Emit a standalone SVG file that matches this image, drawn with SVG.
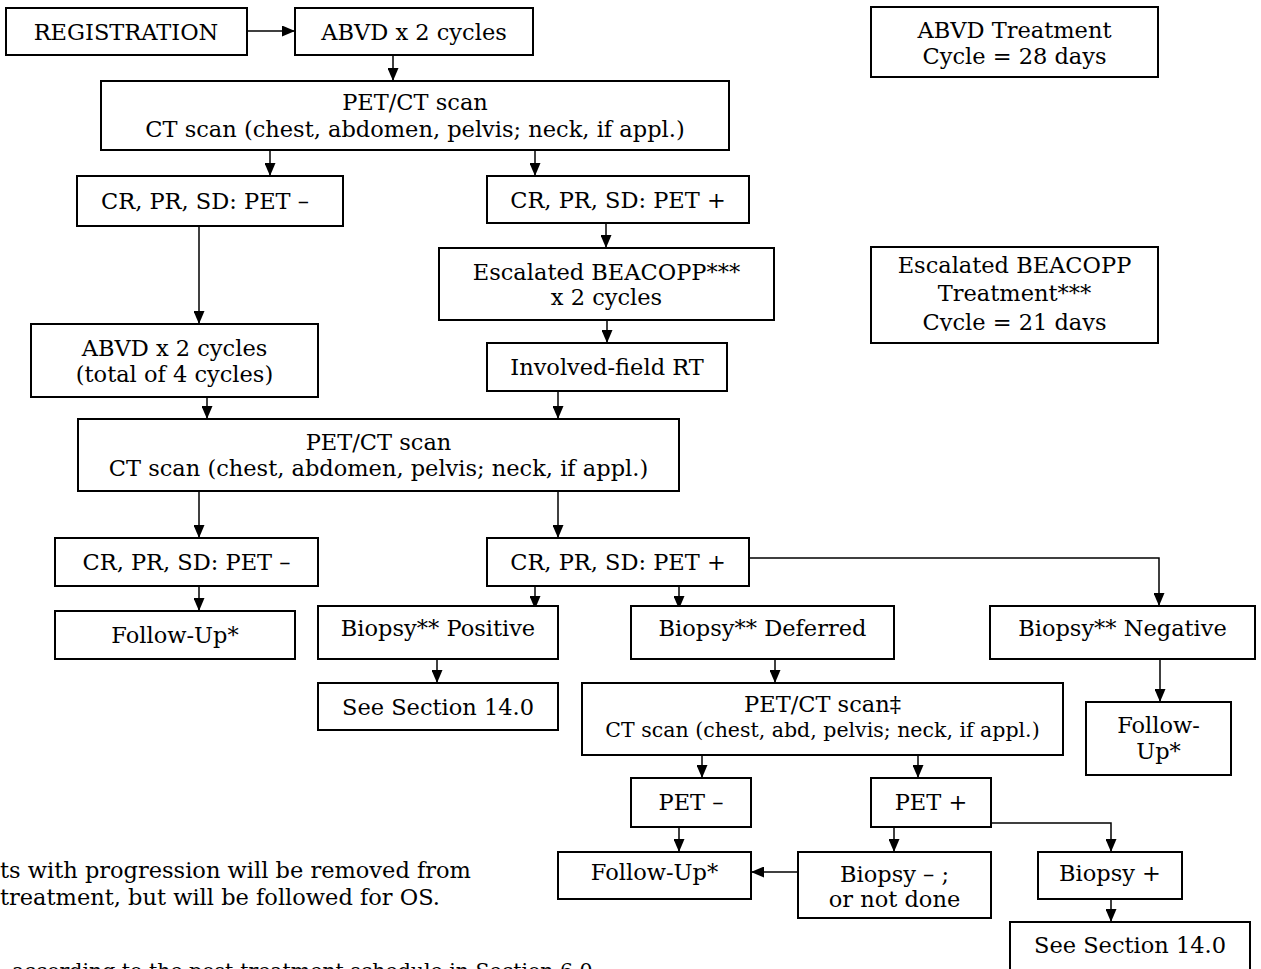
<svg xmlns="http://www.w3.org/2000/svg" width="1261" height="969" viewBox="0 0 1261 969">
<style>
.b{fill:#fff;stroke:#000;stroke-width:2}
.t{font-family:"DejaVu Serif","Liberation Serif",serif;font-size:22.5px;fill:#000;text-anchor:middle}
.s{font-size:20.5px}
.f{font-family:"DejaVu Serif","Liberation Serif",serif;font-size:22.5px;fill:#000}
.g{font-size:20.5px}
.c{fill:none;stroke:#000;stroke-width:1.5;marker-end:url(#a)}
</style>
<defs>
<marker id="a" viewBox="0 0 13 11" refX="13" refY="5.5" markerWidth="13" markerHeight="11" markerUnits="userSpaceOnUse" orient="auto"><path d="M0,0 L13,5.5 L0,11 z" fill="#000"/></marker>
<clipPath id="clipEsc"><rect x="871" y="247" width="287" height="84"/></clipPath>
</defs>
<g id="connectors">
<path class="c" d="M247,31 H295"/>
<path class="c" d="M393,55 V81"/>
<path class="c" d="M270,150 V176"/>
<path class="c" d="M535,150 V176"/>
<path class="c" d="M199,226 V324"/>
<path class="c" d="M606,223 V248"/>
<path class="c" d="M607,320 V343"/>
<path class="c" d="M207,397 V419"/>
<path class="c" d="M558,391 V419"/>
<path class="c" d="M199,491 V538"/>
<path class="c" d="M558,491 V538"/>
<path class="c" d="M749,558 H1159 V606"/>
<path class="c" d="M199,586 V611"/>
<path class="c" d="M535,586 V609"/>
<path class="c" d="M679,586 V609"/>
<path class="c" d="M437,659 V683"/>
<path class="c" d="M775,659 V683"/>
<path class="c" d="M1160,659 V702"/>
<path class="c" d="M702,755 V778"/>
<path class="c" d="M918,755 V778"/>
<path class="c" d="M679,827 V852"/>
<path class="c" d="M894,827 V852"/>
<path class="c" d="M798,872 H751"/>
<path class="c" d="M991,823 H1111 V852"/>
<path class="c" d="M1111,899 V922"/>
</g>
<g id="registration"><rect class="b" x="6" y="8" width="241" height="47"/><text class="t" x="126" y="39.5">REGISTRATION</text></g>
<g id="abvd1"><rect class="b" x="295" y="8" width="238" height="47"/><text class="t" x="414" y="39.5">ABVD x 2 cycles</text></g>
<g id="abvd-treatment"><rect class="b" x="871" y="7" width="287" height="70"/><text class="t" x="1014.5" y="37.5">ABVD Treatment</text><text class="t" x="1014.5" y="63.5">Cycle = 28 days</text></g>
<g id="petct1"><rect class="b" x="101" y="81" width="628" height="69"/><text class="t" x="415" y="110">PET/CT scan</text><text class="t" x="415" y="136.5">CT scan (chest, abdomen, pelvis; neck, if appl.)</text></g>
<g id="crneg1"><rect class="b" x="77" y="176" width="266" height="50"/><text class="t" x="205" y="208.5">CR, PR, SD: PET –</text></g>
<g id="crpos1"><rect class="b" x="487" y="176" width="262" height="47"/><text class="t" x="618" y="207.5">CR, PR, SD: PET +</text></g>
<g id="abvd2"><rect class="b" x="31" y="324" width="287" height="73"/><text class="t" x="174.5" y="355.5">ABVD x 2 cycles</text><text class="t" x="174.5" y="381.5">(total of 4 cycles)</text></g>
<g id="escalated"><rect class="b" x="439" y="248" width="335" height="72"/><text class="t" x="606.5" y="279.5">Escalated BEACOPP***</text><text class="t" x="606.5" y="304.5">x 2 cycles</text></g>
<g id="ifrt"><rect class="b" x="487" y="343" width="240" height="48"/><text class="t" x="607" y="374.5">Involved-field RT</text></g>
<g id="esc-treatment"><rect class="b" x="871" y="247" width="287" height="96"/><g clip-path="url(#clipEsc)"><text class="t" x="1014.5" y="272.5">Escalated BEACOPP</text><text class="t" x="1014.5" y="301">Treatment***</text><text class="t" x="1014.5" y="329.5">Cycle = 21 days</text></g></g>
<g id="petct2"><rect class="b" x="78" y="419" width="601" height="72"/><text class="t" x="378.5" y="449.5">PET/CT scan</text><text class="t" x="378.5" y="475.5">CT scan (chest, abdomen, pelvis; neck, if appl.)</text></g>
<g id="crneg2"><rect class="b" x="55" y="538" width="263" height="48"/><text class="t" x="186.5" y="569.5">CR, PR, SD: PET –</text></g>
<g id="crpos2"><rect class="b" x="487" y="538" width="262" height="48"/><text class="t" x="618" y="569.5">CR, PR, SD: PET +</text></g>
<g id="followup1"><rect class="b" x="55" y="611" width="240" height="48"/><text class="t" x="175" y="642.5">Follow-Up*</text></g>
<g id="biopsy-positive"><rect class="b" x="318" y="606" width="240" height="53"/><text class="t" x="438" y="635.5">Biopsy** Positive</text></g>
<g id="biopsy-deferred"><rect class="b" x="631" y="606" width="263" height="53"/><text class="t" x="762.5" y="635.5">Biopsy** Deferred</text></g>
<g id="biopsy-negative"><rect class="b" x="990" y="606" width="265" height="53"/><text class="t" x="1122.5" y="635.5">Biopsy** Negative</text></g>
<g id="section1"><rect class="b" x="318" y="683" width="240" height="47"/><text class="t" x="438" y="714.5">See Section 14.0</text></g>
<g id="petct3"><rect class="b" x="582" y="683" width="481" height="72"/><text class="t" x="822.5" y="711.5">PET/CT scan‡</text><text class="t s" x="822.5" y="736.5">CT scan (chest, abd, pelvis; neck, if appl.)</text></g>
<g id="followup2"><rect class="b" x="1086" y="702" width="145" height="73"/><text class="t" x="1158.5" y="732.5">Follow-</text><text class="t" x="1158.5" y="758.5">Up*</text></g>
<g id="petneg"><rect class="b" x="631" y="778" width="120" height="49"/><text class="t" x="691" y="809.5">PET –</text></g>
<g id="petpos"><rect class="b" x="871" y="778" width="120" height="49"/><text class="t" x="931" y="809.5">PET +</text></g>
<g id="followup3"><rect class="b" x="558" y="852" width="193" height="47"/><text class="t" x="654.5" y="879.5">Follow-Up*</text></g>
<g id="biopsy-neg"><rect class="b" x="798" y="852" width="193" height="66"/><text class="t" x="894.5" y="881.5">Biopsy – ;</text><text class="t" x="894.5" y="906.5">or not done</text></g>
<g id="biopsy-pos"><rect class="b" x="1038" y="852" width="144" height="47"/><text class="t" x="1110" y="880.5">Biopsy +</text></g>
<g id="section2"><rect class="b" x="1010" y="922" width="240" height="52"/><text class="t" x="1130" y="952.5">See Section 14.0</text></g>
<g id="notes">
<text class="f" x="0" y="878">ts with progression will be removed from</text>
<text class="f" x="0" y="905">treatment, but will be followed for OS.</text>
<text class="f g" x="12" y="978">according to the post-treatment schedule in Section 6.0</text>
</g>
</svg>
